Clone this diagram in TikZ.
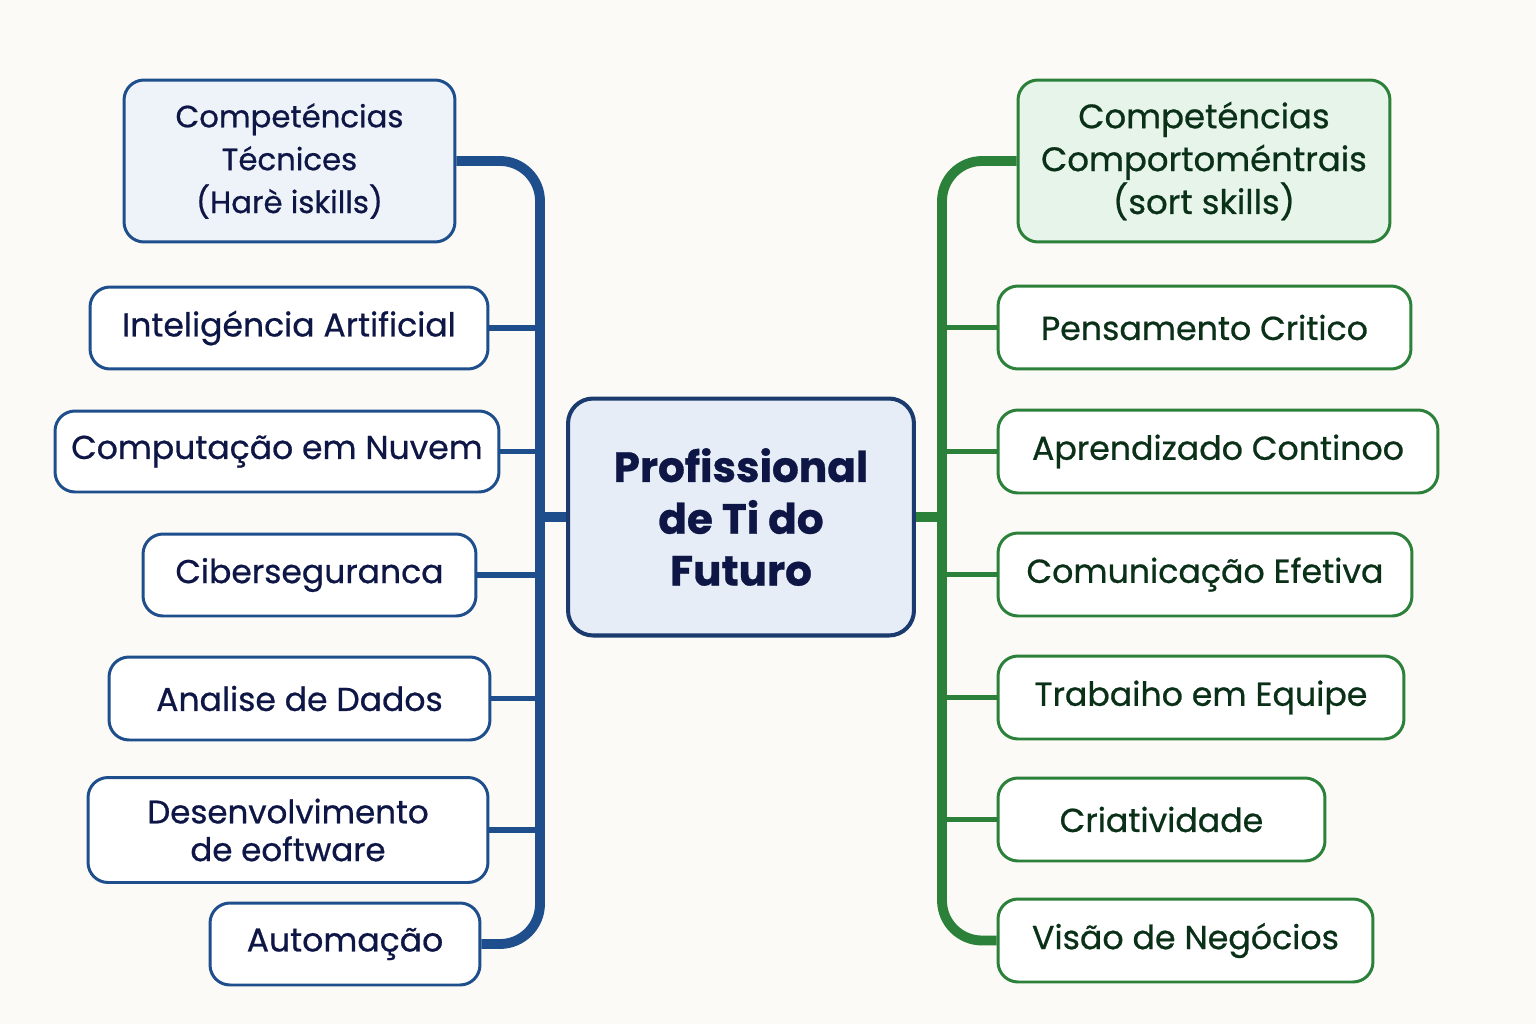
\documentclass[tikz,border=0pt]{standalone}
\usepackage{fontspec}
\setmainfont{Poppins}[FakeBold=0.7]
\usetikzlibrary{calc}

\definecolor{bgcol}{RGB}{251,250,246}
\definecolor{tecblue}{RGB}{30,78,140}
\definecolor{navytext}{RGB}{14,22,70}
\definecolor{tecfill}{RGB}{238,243,250}
\definecolor{midfill}{RGB}{230,237,247}
\definecolor{midline}{RGB}{27,58,110}
\definecolor{compgreen}{RGB}{43,128,58}
\definecolor{greentext}{RGB}{10,48,24}
\definecolor{compfill}{RGB}{230,244,234}

\tikzset{
  tecbox/.style={draw=tecblue, line width=1.7pt, rounded corners=0.4cm, fill=white,
    text=navytext, align=center, inner sep=0pt, font=\fontsize{18.8}{23}\selectfont},
  compbox/.style={draw=compgreen, line width=1.7pt, rounded corners=0.4cm, fill=white,
    text=greentext, align=center, inner sep=0pt, font=\fontsize{18.9}{23}\selectfont},
  bluetrunk/.style={draw=tecblue, line width=5.6pt, rounded corners=0.8cm},
  greentrunk/.style={draw=compgreen, line width=5.6pt, rounded corners=0.8cm},
  bluebranch/.style={draw=tecblue, line width=3.4pt},
  greenbranch/.style={draw=compgreen, line width=3.4pt}
}

\begin{document}
\begin{tikzpicture}[x=0.02cm, y=-0.02cm]
  \fill[bgcol] (0,0) rectangle (1536,1024);
  \useasboundingbox (0,0) rectangle (1536,1024);

  % centro
  \node[draw=midline, line width=2.3pt, rounded corners=0.5cm, fill=midfill, text=navytext,
    align=center, minimum width=6.92cm, minimum height=4.74cm,
    font=\fontsize{24}{29.5}\selectfont\bfseries] (centro) at (741,517)
    {Profissional\\de Ti do\\Futuro};

  % competencias tecnicas
  \node[tecbox, fill=tecfill, minimum width=6.62cm, minimum height=3.24cm,
    font=\fontsize{17.5}{24.4}\selectfont] (tec) at (289.5,161)
    {Competéncias\\Técnices\\(Harè iskills)};
  \node[tecbox, minimum width=7.96cm, minimum height=1.64cm] (ia) at (289,328) {Inteligéncia Artificial};
  \node[tecbox, minimum width=8.88cm, minimum height=1.62cm] (nuvem) at (277,451.5) {Computação em Nuvem};
  \node[tecbox, minimum width=6.66cm, minimum height=1.64cm] (ciber) at (309.5,575) {Ciberseguranca};
  \node[tecbox, minimum width=7.62cm, minimum height=1.66cm] (dados) at (299.5,698.5) {Analise de Dados};
  \node[tecbox, minimum width=8.0cm, minimum height=2.1cm,
    font=\fontsize{18.5}{21.5}\selectfont] (dev) at (288,830) {Desenvolvimento\\de eoftware};
  \node[tecbox, minimum width=5.4cm, minimum height=1.64cm] (auto) at (345,944) {Automação};

  % competencias comportamentais
  \node[compbox, fill=compfill, minimum width=7.44cm, minimum height=3.24cm,
    font=\fontsize{19.3}{24.4}\selectfont] (comp) at (1204,161)
    {Competéncias\\Comportoméntrais\\(sort skills)};
  \node[compbox, minimum width=8.26cm, minimum height=1.66cm] (pens) at (1204.5,327.5) {Pensamento Critico};
  \node[compbox, minimum width=8.8cm, minimum height=1.66cm] (apr) at (1218,451.5) {Aprendizado Continoo};
  \node[compbox, minimum width=8.28cm, minimum height=1.66cm] (comun) at (1205,574.5) {Comunicação Efetiva};
  \node[compbox, minimum width=8.12cm, minimum height=1.66cm] (trab) at (1201,697.5) {Trabaiho em Equipe};
  \node[compbox, minimum width=6.54cm, minimum height=1.66cm] (cri) at (1161.5,819.5) {Criatividade};
  \node[compbox, minimum width=7.5cm, minimum height=1.66cm] (vis) at (1185.5,940.5) {Visão de Negócios};

  % troncos
  \coordinate (lbot) at (540,944);
  \coordinate (rbot) at (942,940.5);
  \draw[bluetrunk] (tec.east) -| (lbot) -- (auto.east);
  \draw[greentrunk] (comp.west) -| (rbot) -- (vis.west);
  \foreach \n in {ia,nuvem,ciber,dados,dev}
    \draw[bluebranch] (\n.east) -- (\n.east -| lbot);
  \foreach \n in {pens,apr,comun,trab,cri}
    \draw[greenbranch] (\n.west) -- (\n.west -| rbot);
  \draw[bluetrunk] (centro.west) -- (centro.west -| lbot);
  \draw[greentrunk] (centro.east) -- (centro.east -| rbot);
\end{tikzpicture}
\end{document}
